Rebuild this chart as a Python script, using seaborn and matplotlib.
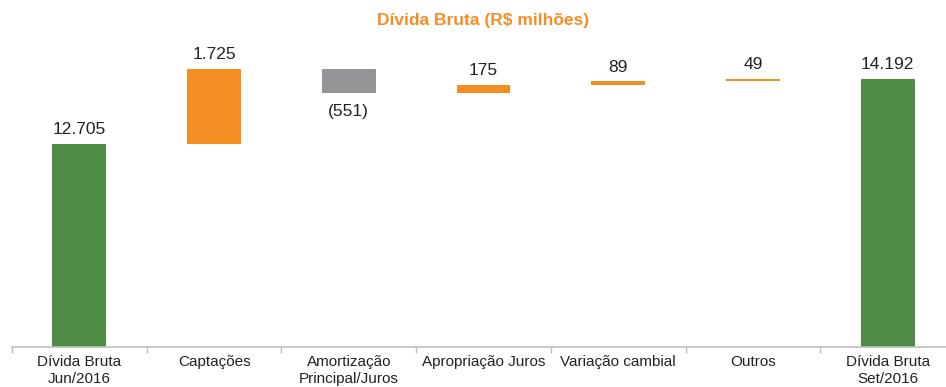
import numpy as np
import matplotlib
matplotlib.use("Agg")
import matplotlib.pyplot as plt
import seaborn as sns

# Waterfall of gross debt (R$ millions), Jun/2016 -> Set/2016
categories = ["Dívida Bruta\nJun/2016", "Captações", "Amortização\nPrincipal/Juros",
              "Apropriação Juros", "Variação cambial", "Outros", "Dívida Bruta\nSet/2016"]
values = [12705, 1725, -551, 175, 89, 49, 14192]
kinds = ["total", "delta", "delta", "delta", "delta", "delta", "total"]
value_labels = ["12.705", "1.725", "(551)", "175", "89", "49", "14.192"]

GREEN = "#4E8C46"
ORANGE = "#F58E22"
GRAY = "#939598"

sns.set_theme(style="white")
plt.rcParams["font.family"] = ["Liberation Sans", "DejaVu Sans"]

fig = plt.figure(figsize=(9.46, 3.87), dpi=100)
ax = fig.add_axes([12 / 946, 40 / 387, 943 / 946, 307 / 387])

# floating bar geometry from the running total
bottoms, heights, colors = [], [], []
running = 0
for v, k in zip(values, kinds):
    if k == "total":
        bottoms.append(0)
        heights.append(v)
        colors.append(GREEN)
        running = v
    else:
        if v >= 0:
            bottoms.append(running)
            heights.append(v)
            colors.append(ORANGE)
        else:
            bottoms.append(running + v)
            heights.append(-v)
            colors.append(GRAY)
        running += v

x = np.arange(len(categories))
ax.bar(x, heights, bottom=bottoms, width=0.4, color=colors, edgecolor="none", zorder=2)

for xi, b, h, v, lab in zip(x, bottoms, heights, values, value_labels):
    if v >= 0:
        ax.annotate(lab, (xi, b + h), xytext=(0, 5), textcoords="offset points",
                    ha="center", va="bottom", fontsize=12.5, color="#222222")
    else:
        ax.annotate(lab, (xi, b), xytext=(0, -8), textcoords="offset points",
                    ha="center", va="top", fontsize=12.5, color="#222222")

ax.set_xlim(-0.5, len(categories) - 0.5)
ax.set_ylim(8036, 15097)

for side in ["left", "right", "top"]:
    ax.spines[side].set_visible(False)
ax.spines["bottom"].set_color("#BFBFBF")
ax.spines["bottom"].set_linewidth(1.2)

ax.set_yticks([])
ax.set_xticks(x)
ax.set_xticklabels(categories, fontsize=11, color="#222222", linespacing=1.2)
ax.tick_params(axis="x", which="major", bottom=False, length=0, pad=6)
ax.set_xticks(np.arange(-0.5, len(categories), 1.0), minor=True)
ax.tick_params(axis="x", which="minor", bottom=True, length=4, width=1,
               color="#BFBFBF", direction="out")

fig.text(483.5 / 946, 1 - 20 / 387, "Dívida Bruta (R$ milhões)", ha="center", va="center",
         fontsize=12.5, fontweight="bold", color=ORANGE)

fig.savefig("out.png", dpi=100)
